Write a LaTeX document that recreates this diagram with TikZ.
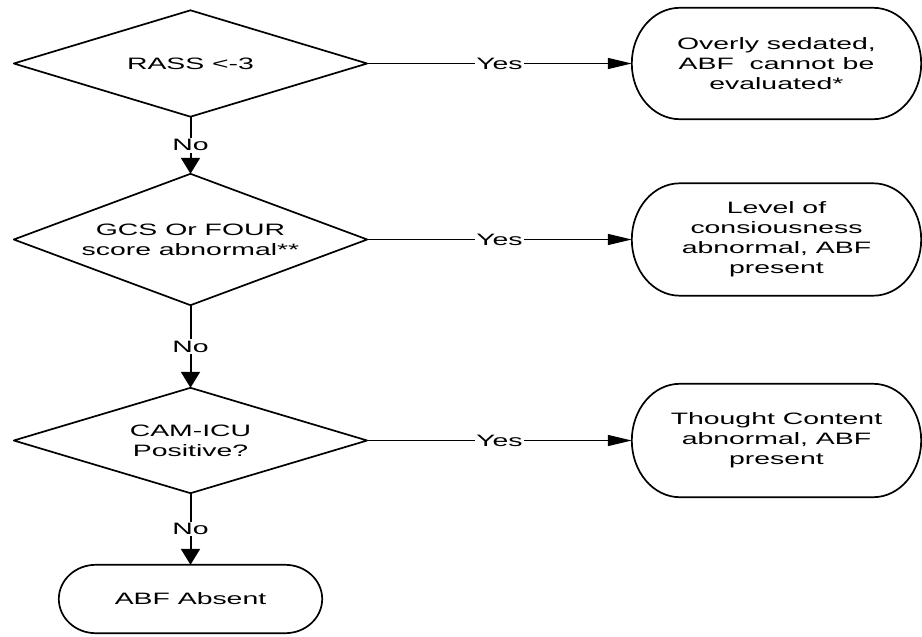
\documentclass[tikz,border=0pt]{standalone}
\usepackage{fontspec}
\setmainfont[FakeStretch=1.72]{Liberation Sans}
\usetikzlibrary{arrows.meta,calc}
\tikzset{
  holder/.style={draw=none, rectangle, inner sep=0pt, align=center},
  shapeline/.style={line width=1.7pt, line join=round},
  harrow/.style={line width=1.4pt, -{Triangle[length=24pt,width=11pt]}},
  varrow/.style={line width=2pt, -{Triangle[length=16pt,width=19pt]}},
  lbl/.style={fill=white, inner sep=1.5pt, midway}
}
\newcommand\mystadium[2]{%
  \draw[shapeline] let \p1=(#1.north west), \p2=(#1.south east), \n1={(\y1-\y2)/2} in
    (\x1+#2,\y1) -- (\x2-#2,\y1)
    arc[start angle=90,end angle=-90,x radius=#2,y radius=\n1]
    -- (\x1+#2,\y2)
    arc[start angle=270,end angle=90,x radius=#2,y radius=\n1] -- cycle;}
\newcommand\mydiamond[1]{%
  \draw[shapeline] (#1.north) -- (#1.east) -- (#1.south) -- (#1.west) -- cycle;}
\begin{document}
\begin{tikzpicture}[x=1pt,y=1pt,font=\fontsize{16.5}{20}\selectfont]
\useasboundingbox (0,0) rectangle (922,-637);
% decisions
\node[holder, minimum width=353pt, minimum height=106pt] (d1) at (190.5,-63.5) {RASS <-3};
\node[holder, minimum width=353pt, minimum height=131pt] (d2) at (190.5,-239.5) {GCS Or FOUR\\score abnormal**};
\node[holder, minimum width=353pt, minimum height=105pt] (d3) at (190.5,-440.5) {CAM-ICU\\Positive?};
\mydiamond{d1}
\mydiamond{d2}
\mydiamond{d3}
% terminals
\node[holder, minimum width=289pt, minimum height=111pt] (b1) at (776.5,-63.5) {Overly sedated,\\ABF~ cannot be\\evaluated*};
\node[holder, minimum width=289pt, minimum height=112pt] (b2) at (776.5,-239.5) {Level of\\consiousness\\abnormal, ABF\\present};
\node[holder, minimum width=289pt, minimum height=113pt] (b3) at (776.5,-440.5) {Thought Content\\abnormal, ABF\\present};
\node[holder, minimum width=263pt, minimum height=68pt] (b4) at (190.5,-599) {ABF Absent};
\mystadium{b1}{48pt}
\mystadium{b2}{48pt}
\mystadium{b3}{48pt}
\mystadium{b4}{37pt}
% connectors
\draw[harrow] (d1.east) -- node[lbl]{Yes} (b1.west);
\draw[harrow] (d2.east) -- node[lbl]{Yes} (b2.west);
\draw[harrow] (d3.east) -- node[lbl]{Yes} (b3.west);
\draw[varrow] (d1.south) -- node[lbl]{No} (d2.north);
\draw[varrow] (d2.south) -- node[lbl]{No} (d3.north);
\draw[varrow] (d3.south) -- node[lbl]{No} (b4.north);
\end{tikzpicture}
\end{document}
